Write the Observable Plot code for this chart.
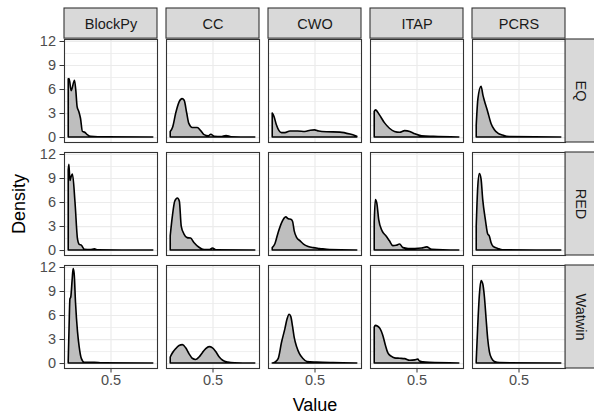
<!DOCTYPE html>
<html>
<head>
<meta charset="utf-8">
<script src="https://cdn.jsdelivr.net/npm/d3@7"></script>
<script src="https://cdn.jsdelivr.net/npm/@observablehq/plot@0.6"></script>
<style>
  html, body { margin: 0; padding: 0; background: white; }
  #chart { width: 594px; height: 417px; }
</style>
</head>
<body>
<div id="chart"></div>
<script>
// Facet categories
const cols = ["BlockPy", "CC", "CWO", "ITAP", "PCRS"];
const rows = ["EQ", "RED", "Watwin"];
// Tick labels
const xTicks = [0.5];
const yTicks = [0, 3, 6, 9, 12];
const yMinor = [1.5, 4.5, 7.5, 10.5];

// Density curves: [value, density]
const blockpyEQ = [[0,7.25],[0.01,7.3],[0.035,5.8],[0.074,7.1],[0.09,5.8],[0.105,3.8],[0.125,3.2],[0.145,2.35],[0.168,0.7],[0.195,0.6],[0.225,0.3],[0.265,0.08],[0.35,0.03],[0.45,0.03],[1,0]];
const ccEQ = [[0,0.7],[0.03,1.3],[0.065,3.0],[0.105,4.4],[0.14,4.8],[0.165,4.6],[0.195,3.0],[0.22,1.7],[0.26,1.2],[0.32,1.2],[0.36,0.8],[0.4,0.3],[0.45,0.15],[0.48,0.35],[0.52,0.1],[0.6,0.05],[0.66,0.2],[0.72,0.03],[1,0]];
const cwoEQ = [[0,3.0],[0.02,2.6],[0.05,1.5],[0.08,0.8],[0.11,0.55],[0.15,0.55],[0.21,0.75],[0.3,0.75],[0.386,0.7],[0.45,0.85],[0.5,0.9],[0.55,0.75],[0.64,0.66],[0.8,0.62],[0.92,0.37],[1,0.1]];
const itapEQ = [[0,3.2],[0.015,3.4],[0.06,2.8],[0.12,1.8],[0.18,1.1],[0.24,0.7],[0.3,0.6],[0.36,0.8],[0.42,0.7],[0.48,0.4],[0.56,0.15],[0.7,0.08],[1,0]];
const pcrsEQ = [[0,1.5],[0.02,4.8],[0.057,6.35],[0.08,5.2],[0.095,4.6],[0.135,3.2],[0.175,1.7],[0.215,0.9],[0.255,0.5],[0.31,0.25],[0.39,0.05],[1,0]];

const blockpyRED = [[0,10.0],[0.008,10.7],[0.02,8.7],[0.035,9.2],[0.05,9.5],[0.08,6.0],[0.11,1.35],[0.13,0.7],[0.155,0.6],[0.19,0.1],[0.26,0.05],[0.31,0.15],[0.35,0.02],[1,0]];
const ccRED = [[0,1.8],[0.025,4.2],[0.053,6.1],[0.085,6.5],[0.108,6.1],[0.13,3.0],[0.163,2.0],[0.2,1.55],[0.24,1.5],[0.28,0.95],[0.34,0.35],[0.4,0.05],[0.46,0.05],[0.5,0.25],[0.54,0.02],[1,0]];
const cwoRED = [[0,0.3],[0.03,0.75],[0.07,2.2],[0.11,3.4],[0.16,4.15],[0.19,3.9],[0.22,3.85],[0.24,3.6],[0.26,2.4],[0.29,1.55],[0.33,1.15],[0.37,0.75],[0.425,0.45],[0.485,0.3],[0.56,0.2],[0.68,0.05],[1,0]];
const itapRED = [[0,3.5],[0.013,6.3],[0.03,5.9],[0.053,3.8],[0.093,2.4],[0.14,1.75],[0.18,1.15],[0.22,0.55],[0.26,0.6],[0.3,0.75],[0.34,0.3],[0.4,0.2],[0.48,0.2],[0.56,0.25],[0.62,0.4],[0.68,0.1],[1,0]];
const pcrsRED = [[0,3.0],[0.018,7.9],[0.037,9.55],[0.057,8.9],[0.077,6.3],[0.108,3.8],[0.136,2.0],[0.155,1.75],[0.175,0.95],[0.2,0.45],[0.255,0.2],[0.31,0.03],[1,0]];

const blockpyWatwin = [[0,0.3],[0.01,4.5],[0.02,8.0],[0.03,8.25],[0.047,10.5],[0.058,11.8],[0.07,11.2],[0.086,7.6],[0.11,3.9],[0.13,2.0],[0.156,0.55],[0.19,0.1],[0.31,0.1],[0.4,0.02],[1,0]];
const ccWatwin = [[0,0.75],[0.025,1.25],[0.065,1.8],[0.104,2.2],[0.144,2.3],[0.183,1.9],[0.223,1.15],[0.26,0.6],[0.3,0.45],[0.34,0.75],[0.38,1.3],[0.42,1.8],[0.46,2.05],[0.5,1.9],[0.54,1.4],[0.58,0.75],[0.62,0.35],[0.68,0.12],[0.76,0.03],[1,0]];
const cwoWatwin = [[0,0],[0.03,0.1],[0.07,0.55],[0.11,2.6],[0.15,4.3],[0.175,5.5],[0.2,6.1],[0.22,5.8],[0.24,4.6],[0.26,3.2],[0.29,2.0],[0.32,1.2],[0.36,0.6],[0.41,0.2],[0.525,0.12],[0.72,0.05],[1,0]];
const itapWatwin = [[0,4.5],[0.013,4.7],[0.041,4.6],[0.069,4.3],[0.1,3.5],[0.133,2.2],[0.16,1.3],[0.2,0.85],[0.24,0.65],[0.3,0.6],[0.36,0.55],[0.42,0.35],[0.48,0.4],[0.515,0.5],[0.535,0.25],[0.575,0.15],[0.65,0.08],[1,0]];
const pcrsWatwin = [[0,0.3],[0.018,4.7],[0.037,8.5],[0.057,10.3],[0.077,9.9],[0.097,8.25],[0.117,5.5],[0.136,3.0],[0.156,1.4],[0.184,0.55],[0.215,0.2],[0.275,0.05],[1,0]];

const curves = {
  EQ: [blockpyEQ, ccEQ, cwoEQ, itapEQ, pcrsEQ],
  RED: [blockpyRED, ccRED, cwoRED, itapRED, pcrsRED],
  Watwin: [blockpyWatwin, ccWatwin, cwoWatwin, itapWatwin, pcrsWatwin]
};
const table = rows.flatMap(r => cols.flatMap((c, i) =>
  curves[r][i].map(([value, density]) => ({metric: r, method: c, value, density}))));

// Layout
const W = 594, H = 417;
const mL = 62.7, mR = 28, mT = 38.3, mB = 47.3;
const padX = 0.0927, padY = 0.087;
const panelW = (W - mL - mR) / (cols.length - padX) * (1 - padX);
const panelH = (H - mT - mB) / (rows.length - padY) * (1 - padY);
const strip = 31;
const font = "'Liberation Sans', Arial, Helvetica, sans-serif";

const chart = Plot.plot({
  width: W, height: H,
  marginLeft: mL, marginRight: mR, marginTop: mT, marginBottom: mB,
  style: {fontFamily: font, background: "white", overflow: "visible"},
  fx: {domain: cols, paddingInner: padX, paddingOuter: 0, axis: null},
  fy: {domain: rows, paddingInner: padY, paddingOuter: 0, axis: null},
  x: {domain: [-0.05, 1.05]},
  y: {domain: [-0.62, 12.25]},
  marks: [
    Plot.gridY(yMinor, {stroke: "#ebebeb", strokeOpacity: 1, strokeWidth: 0.8}),
    Plot.gridY(yTicks, {stroke: "#ebebeb", strokeOpacity: 1, strokeWidth: 1.2}),
    Plot.gridX(xTicks, {stroke: "#ebebeb", strokeOpacity: 1, strokeWidth: 1.2}),
    Plot.areaY(table, {x: "value", y: "density", fx: "method", fy: "metric",
      fill: "#bebebe", stroke: "black", strokeWidth: 1.6, curve: "monotone-x"}),
    Plot.frame({stroke: "#333333", strokeWidth: 1.1}),
    Plot.axisY(yTicks, {anchor: "left", tickSize: 4.5, tickPadding: 4, stroke: "#333333",
      fill: "#4d4d4d", fontSize: 14.5, label: null}),
    Plot.axisX(xTicks, {anchor: "bottom", tickSize: 4.5, tickPadding: 2, stroke: "#333333",
      fill: "#4d4d4d", fontSize: 14.5, label: null, tickFormat: d => String(d)}),
    // top strips
    Plot.rect(cols, {fx: d => d, fy: () => rows[0], fill: "#d9d9d9", stroke: "#333333",
      strokeWidth: 1.1, insetTop: -strip, insetBottom: panelH}),
    Plot.text(cols, {fx: d => d, fy: () => rows[0], text: d => d, frameAnchor: "top",
      lineAnchor: "middle", textAnchor: "middle",
      dy: -strip / 2, fontSize: 14.5, fill: "#1a1a1a"}),
    // right strips
    Plot.rect(rows, {fy: d => d, fx: () => cols[cols.length - 1], fill: "#d9d9d9", stroke: "#333333",
      strokeWidth: 1.1, insetLeft: panelW, insetRight: -strip}),
    Plot.text(rows, {fy: d => d, fx: () => cols[cols.length - 1], text: d => d, frameAnchor: "right",
      lineAnchor: "middle", textAnchor: "middle",
      dx: strip / 2, rotate: 90, fontSize: 14.5, fill: "#1a1a1a"}),
    // axis titles
    Plot.text(["Density"], {fx: () => cols[0], fy: () => rows[1], text: d => d, frameAnchor: "left",
      lineAnchor: "middle", textAnchor: "middle",
      dx: -45, rotate: -90, fontSize: 18, fill: "black"}),
    Plot.text(["Value"], {fx: () => cols[2], fy: () => rows[2], text: d => d, frameAnchor: "bottom",
      lineAnchor: "middle", textAnchor: "middle",
      dy: 37, fontSize: 18, fill: "black"})
  ]
});
document.getElementById("chart").appendChild(chart);
</script>
</body>
</html>
